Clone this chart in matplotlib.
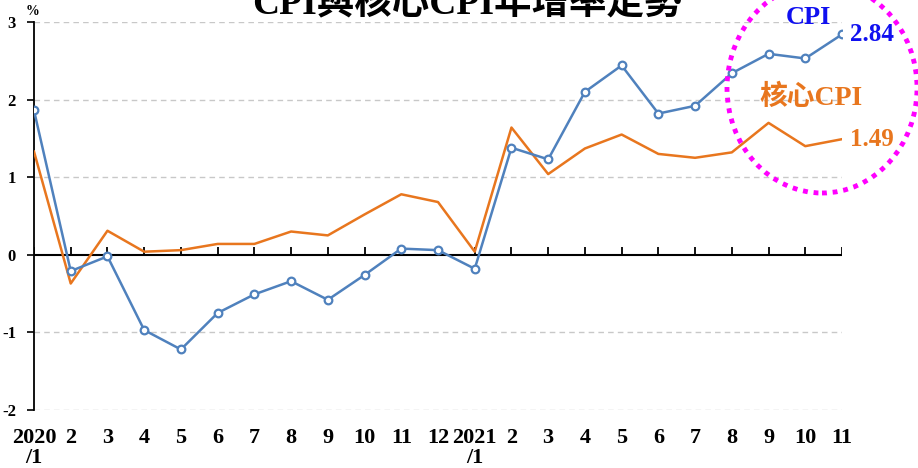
import matplotlib.pyplot as plt
from matplotlib.patches import Ellipse
import numpy as np

# months 2020/1 .. 2021/11
labels = ['2020\n/1', '2', '3', '4', '5', '6', '7', '8', '9', '10', '11', '12',
          '2021\n/1', '2', '3', '4', '5', '6', '7', '8', '9', '10', '11']
cpi = [1.86, -0.21, -0.02, -0.97, -1.22, -0.75, -0.51, -0.34, -0.58, -0.26, 0.08, 0.06,
       -0.18, 1.38, 1.23, 2.10, 2.44, 1.82, 1.92, 2.34, 2.59, 2.53, 2.84]
core_cpi = [1.33, -0.37, 0.31, 0.04, 0.06, 0.14, 0.14, 0.30, 0.25, 0.52, 0.78, 0.68,
            0.04, 1.64, 1.04, 1.37, 1.55, 1.30, 1.25, 1.32, 1.70, 1.40, 1.49]
yticks = [-2, -1, 0, 1, 2, 3]

blue = '#4f81bd'
orange = '#e8761e'
serif = ['Liberation Serif', 'Noto Sans CJK TC']

fig = plt.figure(figsize=(9.18, 4.68), dpi=100)
ax = fig.add_axes([34 / 918, 1 - 410 / 468, (842 - 34) / 918, (410 - 22) / 468])

x = np.arange(len(labels))
ax.plot(x, core_cpi, color=orange, lw=1.8, zorder=3)
ax.plot(x, cpi, color=blue, lw=1.8, marker='o', ms=5.5, mfc='white', mec=blue,
        mew=1.6, zorder=4)

ax.set_xlim(0, len(labels) - 1)
ax.set_ylim(-2, 3)

# gridlines and zero axis
for v in yticks:
    if v != 0:
        ax.axhline(v, color='#c8c8c8', lw=1, ls=(0, (4, 3)), zorder=1)
ax.axhline(0, color='black', lw=1.5, zorder=2)
ax.vlines(x, 0, 0.1, color='black', lw=1.3, zorder=2)

for s in ['top', 'right', 'bottom']:
    ax.spines[s].set_visible(False)
ax.spines['left'].set_linewidth(1.3)

ax.set_yticks(yticks)
ax.set_yticklabels([str(v) for v in yticks], fontfamily='Liberation Serif',
                   fontweight='bold', fontsize=12)
ax.tick_params(axis='y', direction='out', length=5, width=1.2, pad=8)
ax.set_xticks(x)
ax.set_xticklabels(labels, fontfamily='Liberation Serif', fontweight='bold',
                   fontsize=16, linespacing=1.0)
ax.tick_params(axis='x', length=0, pad=13)

ax.text(-0.01, 1.01, '%', transform=ax.transAxes, ha='left', va='bottom',
        fontfamily='Liberation Serif', fontweight='bold', fontsize=10)

fig.text(467 / 918, 1 - 22 / 468, 'CPI與核心CPI年增率走勢', ha='center', va='bottom',
         family=serif, fontweight='bold', fontsize=27)

# annotations
ax.annotate('2.84', (x[-1], cpi[-1]), xytext=(6, 0), textcoords='offset points',
            ha='left', va='center', color='#1010f0', fontfamily='Liberation Serif',
            fontweight='bold', fontsize=18, annotation_clip=False)
ax.annotate('1.49', (x[-1], core_cpi[-1]), xytext=(6, 0), textcoords='offset points',
            ha='left', va='center', color=orange, fontfamily='Liberation Serif',
            fontweight='bold', fontsize=18, annotation_clip=False)
fig.text(808 / 918, 1 - 17 / 468, 'CPI', ha='center', va='center', color='#1010f0',
         family=serif, fontweight='bold', fontsize=19)
fig.text(811 / 918, 1 - 98 / 468, '核心CPI', ha='center', va='center', color=orange,
         family=serif, fontweight='bold', fontsize=20)

fig.patches.append(Ellipse((822 / 918, 1 - 88 / 468), 190 / 918, 210 / 468,
                           transform=fig.transFigure, fill=False, ec='#ff00ff',
                           lw=3.5, ls=(0, (1, 1.2))))

fig.savefig('out.png', dpi=100)
